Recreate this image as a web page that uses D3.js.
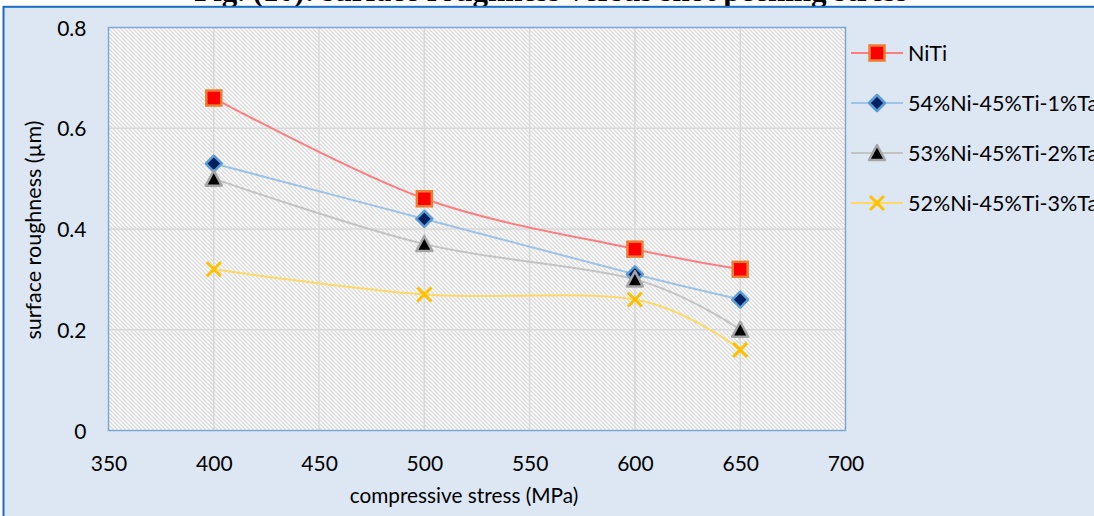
<!DOCTYPE html>
<html>
<head>
<meta charset="utf-8">
<script src="https://cdn.jsdelivr.net/npm/d3@7"></script>
<style>
  html, body { margin: 0; padding: 0; background: #ffffff; }
  svg { display: block; }
  text { font-family: Lato, "Open Sans", sans-serif; fill: #000; }
</style>
</head>
<body>
<svg id="chart" width="1094" height="516"></svg>
<script>
// Compressive stress (MPa) at which each sample was peened
const stress = [400, 500, 600, 650];

// Surface roughness (µm) for each alloy
const nitiValues = [0.66, 0.46, 0.36, 0.32];
const ta1Values = [0.53, 0.42, 0.31, 0.26];
const ta2Values = [0.50, 0.37, 0.30, 0.20];
const ta3Values = [0.32, 0.27, 0.26, 0.16];

const seriesNames = ["NiTi", "54%Ni-45%Ti-1%Ta", "53%Ni-45%Ti-2%Ta", "52%Ni-45%Ti-3%Ta"];

const xTicks = [350, 400, 450, 500, 550, 600, 650, 700];
const yTicks = [0, 0.2, 0.4, 0.6, 0.8];
const yTickLabels = ["0", "0.2", "0.4", "0.6", "0.8"];

const titleText = "Fig. (10): surface roughness versus shot peening stress";
const xTitle = "compressive stress (MPa)";
const yTitle = "surface roughness (µm)";

const series = [
  { name: seriesNames[0], values: nitiValues, line: "#ff7c80", marker: "square", fill: "#ff0000", stroke: "#ed7d31" },
  { name: seriesNames[1], values: ta1Values, line: "#9dc3e6", marker: "diamond", fill: "#002060", stroke: "#5b9bd5" },
  { name: seriesNames[2], values: ta2Values, line: "#c3c3c3", marker: "triangle", fill: "#000000", stroke: "#a5a5a5" },
  { name: seriesNames[3], values: ta3Values, line: "#ffd966", marker: "cross", fill: "none", stroke: "#ffc000" }
];

const svg = d3.select("#chart");
const W = 1094, H = 516;
const plot = { left: 108.5, top: 27.5, right: 845.5, bottom: 430.5 };

// Figure caption above the chart frame
svg.append("text")
  .attr("x", 551).attr("y", 1)
  .attr("text-anchor", "middle")
  .style("font-family", "'Liberation Serif', 'Times New Roman', serif")
  .style("font-weight", "bold")
  .style("font-size", "31px")
  .text(titleText);

// Chart frame
svg.append("rect")
  .attr("x", 3.5).attr("y", 6.8)
  .attr("width", W + 10).attr("height", H + 10)
  .attr("fill", "#dce7f3")
  .attr("stroke", "#1a6fc2")
  .attr("stroke-width", 2);

// Diagonal hatch fill for the plot area
const defs = svg.append("defs");
const pat = defs.append("pattern")
  .attr("id", "hatch")
  .attr("patternUnits", "userSpaceOnUse")
  .attr("width", 4).attr("height", 4);
pat.append("rect").attr("width", 4).attr("height", 4).attr("fill", "#ffffff");
pat.append("path")
  .attr("d", "M-1,-1 L5,5 M-1,3 L1,5 M3,-1 L5,1")
  .attr("stroke", "#dadada")
  .attr("stroke-width", 1.3);

const x = d3.scaleLinear().domain([350, 700]).range([plot.left, plot.right]);
const y = d3.scaleLinear().domain([0, 0.8]).range([plot.bottom, plot.top]);

svg.append("rect")
  .attr("x", plot.left).attr("y", plot.top)
  .attr("width", plot.right - plot.left).attr("height", plot.bottom - plot.top)
  .attr("fill", "url(#hatch)");

// Gridlines
const grid = svg.append("g");
grid.selectAll("line.v").data(xTicks.slice(1, -1)).join("line")
  .attr("x1", d => x(d)).attr("x2", d => x(d))
  .attr("y1", plot.top).attr("y2", plot.bottom)
  .attr("stroke", "#d9d9d9").attr("stroke-width", 1.5);
grid.selectAll("line.h").data(yTicks.slice(1, -1)).join("line")
  .attr("x1", plot.left).attr("x2", plot.right)
  .attr("y1", d => y(d)).attr("y2", d => y(d))
  .attr("stroke", "#d9d9d9").attr("stroke-width", 1.5);

// Plot border
svg.append("rect")
  .attr("x", plot.left).attr("y", plot.top)
  .attr("width", plot.right - plot.left).attr("height", plot.bottom - plot.top)
  .attr("fill", "none")
  .attr("stroke", "#7ba7d7")
  .attr("stroke-width", 1.5);

// Axes (tick labels only)
const xAxis = svg.append("g")
  .attr("transform", `translate(0,${plot.bottom})`)
  .call(d3.axisBottom(x).tickValues(xTicks).tickSize(0).tickPadding(0).tickFormat(d3.format("d")));
xAxis.select(".domain").remove();
xAxis.selectAll("text")
  .attr("y", 40).attr("dy", 0)
  .style("font-size", "21px")
  .style("font-family", "Lato, sans-serif");

const yAxis = svg.append("g")
  .attr("transform", `translate(${plot.left},0)`)
  .call(d3.axisLeft(y).tickValues(yTicks).tickSize(0).tickPadding(0)
    .tickFormat((d, i) => yTickLabels[i]));
yAxis.select(".domain").remove();
yAxis.selectAll("text")
  .attr("x", -22).attr("dy", "0.36em")
  .style("font-size", "21px")
  .style("font-family", "Lato, sans-serif");

// Axis titles
svg.append("text")
  .attr("x", 464).attr("y", 503)
  .attr("text-anchor", "middle")
  .style("font-size", "20.8px")
  .text(xTitle);

svg.append("text")
  .attr("transform", "translate(41,230) rotate(-90)")
  .attr("text-anchor", "middle")
  .style("font-size", "21.5px")
  .text(yTitle);

// Marker shapes
function drawMarker(g, s, cx, cy) {
  if (s.marker === "square") {
    g.append("rect")
      .attr("x", cx - 7.5).attr("y", cy - 7.5)
      .attr("width", 15).attr("height", 15)
      .attr("fill", s.fill).attr("stroke", s.stroke).attr("stroke-width", 2.5);
  } else if (s.marker === "diamond") {
    const r = 8;
    g.append("path")
      .attr("d", `M${cx},${cy - r} L${cx + r},${cy} L${cx},${cy + r} L${cx - r},${cy} Z`)
      .attr("fill", s.fill).attr("stroke", s.stroke).attr("stroke-width", 2.5)
      .attr("stroke-linejoin", "round");
  } else if (s.marker === "triangle") {
    g.append("path")
      .attr("d", `M${cx},${cy - 8} L${cx + 8},${cy + 7} L${cx - 8},${cy + 7} Z`)
      .attr("fill", s.fill).attr("stroke", s.stroke).attr("stroke-width", 2.5)
      .attr("stroke-linejoin", "round");
  } else {
    const r = 7;
    g.append("path")
      .attr("d", `M${cx - r},${cy - r} L${cx + r},${cy + r} M${cx - r},${cy + r} L${cx + r},${cy - r}`)
      .attr("stroke", s.stroke).attr("stroke-width", 3).attr("fill", "none");
  }
}

const line = d3.line()
  .x(d => x(d[0]))
  .y(d => y(d[1]))
  .curve(d3.curveCatmullRom.alpha(0));

const marks = svg.append("g");
series.forEach(s => {
  const pts = stress.map((v, i) => [v, s.values[i]]);
  marks.append("path")
    .datum(pts)
    .attr("d", line)
    .attr("fill", "none")
    .attr("stroke", s.line)
    .attr("stroke-width", 2);
});
series.forEach(s => {
  const g = marks.append("g");
  stress.forEach((v, i) => drawMarker(g, s, x(v), y(s.values[i])));
});

// Legend
const legend = svg.append("g");
series.forEach((s, i) => {
  const cy = 53 + i * 50;
  legend.append("line")
    .attr("x1", 851).attr("x2", 903)
    .attr("y1", cy).attr("y2", cy)
    .attr("stroke", s.line).attr("stroke-width", 2);
  drawMarker(legend, s, 877, cy);
  legend.append("text")
    .attr("x", 908).attr("y", cy).attr("dy", "0.36em")
    .style("font-size", "21.5px")
    .text(s.name);
});
</script>
</body>
</html>
